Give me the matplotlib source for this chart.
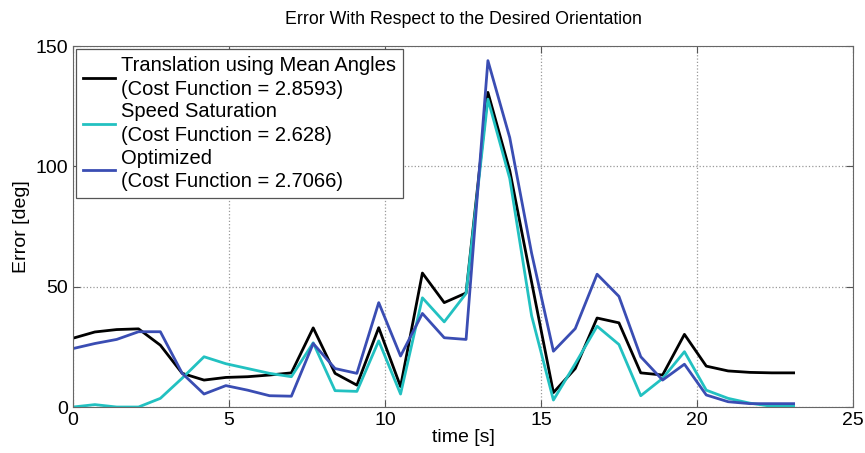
import matplotlib
matplotlib.use("Agg")
import matplotlib.pyplot as plt
import numpy as np

plt.rcParams['font.family'] = ['Liberation Sans', 'DejaVu Sans']

# sample times (s), step 0.7
t = np.round(np.arange(34) * 0.7, 2)

mean_angles = [28.6, 31.2, 32.2, 32.5, 25.7, 14.0, 11.2, 12.3, 12.6, 13.3,
               14.2, 32.9, 14.0, 9.1, 33.0, 8.5, 55.7, 43.4, 47.4, 130.8,
               98.3, 52.0, 6.0, 16.0, 37.0, 35.0, 14.2, 13.3, 30.2, 17.0,
               15.0, 14.4, 14.2, 14.2]
speed_sat = [0.0, 1.0, 0.0, 0.0, 3.6, 12.0, 20.9, 18.0, 16.0, 14.0,
             12.6, 26.7, 6.8, 6.5, 27.5, 5.4, 45.4, 35.4, 47.2, 128.0,
             95.0, 38.0, 2.9, 18.0, 33.6, 26.0, 4.7, 11.9, 23.0, 7.0,
             3.6, 1.6, 0.3, 0.3]
optimized = [24.3, 26.4, 28.1, 31.3, 31.3, 14.0, 5.4, 8.9, 7.0, 4.7,
             4.5, 26.4, 16.0, 14.0, 43.4, 21.2, 38.9, 28.8, 28.1, 144.0,
             112.0, 64.0, 23.2, 32.6, 55.2, 46.0, 20.9, 11.2, 17.8, 5.0,
             2.2, 1.4, 1.4, 1.4]

labels = ["Translation using Mean Angles\n(Cost Function = 2.8593)",
          "Speed Saturation\n(Cost Function = 2.628)",
          "Optimized\n(Cost Function = 2.7066)"]
colors = ["#000000", "#22C1C1", "#3A4DB3"]

fig = plt.figure(figsize=(8.65, 4.53), dpi=100)
ax = fig.add_axes([0.0844, 0.1015, 0.9016, 0.7965])

for y, lab, c in zip([mean_angles, speed_sat, optimized], labels, colors):
    ax.plot(t, y, color=c, lw=2.0, label=lab)

ax.set_xlim(0, 25)
ax.set_ylim(0, 150)
ax.set_xticks([0, 5, 10, 15, 20, 25])
ax.set_yticks([0, 50, 100, 150])
ax.grid(True, ls=':', color='#999999', lw=0.9)
ax.tick_params(direction='in', top=True, right=True, labelsize=14,
               color='#555555', length=5)
for s in ax.spines.values():
    s.set_color('#666666')

ax.set_title("Error With Respect to the Desired Orientation", fontsize=12.8, pad=16)
ax.set_xlabel("time [s]", fontsize=14, labelpad=0)
ax.set_ylabel("Error [deg]", fontsize=14, labelpad=4)

leg = ax.legend(loc='upper left', fontsize=14.5, fancybox=False, framealpha=1,
                edgecolor='#555555', handlelength=1.6, handletextpad=0.3,
                borderaxespad=0.15, borderpad=0.35, labelspacing=0.18)
leg.get_frame().set_linewidth(0.9)
for txt in leg.get_texts():
    txt.set_linespacing(1.3)

fig.savefig("out.png", dpi=100)
